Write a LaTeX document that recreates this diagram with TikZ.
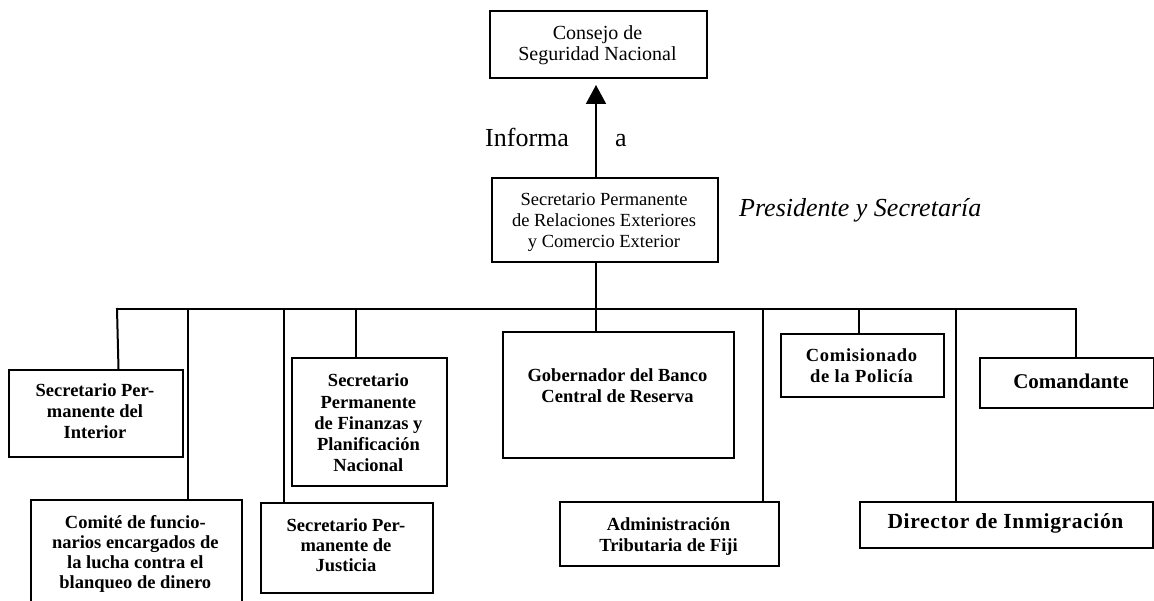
\documentclass[tikz,border=0pt]{standalone}
\usepackage{fontspec}
\setmainfont{Liberation Serif}
\newfontfamily\spacedA[LetterSpace=4]{Liberation Serif}
\newfontfamily\spacedB[LetterSpace=3]{Liberation Serif}
\usetikzlibrary{arrows.meta}
\newcommand\tstrut{\rule{0pt}{0.8em}}
\begin{document}
\begin{tikzpicture}[x=1pt,y=-1pt,
  box/.style={draw, line width=2pt, inner sep=0pt, anchor=north west},
  txt/.style={inner sep=0pt, align=center, anchor=north},
  reg/.style={font=\fontsize{18.5}{21}\selectfont},
  bld/.style={font=\fontsize{18.5}{#1}\selectfont\bfseries},
  conn/.style={line width=2pt, line cap=rect},
  big/.style={inner sep=0pt, anchor=base west, font=\fontsize{26}{30}\selectfont}]
\useasboundingbox (0,0) rectangle (1154,601);
% boxes
\node[box, minimum width=217pt, minimum height=67pt]  (cons) at (489,10)  {};
\node[box, minimum width=226pt, minimum height=84pt]  (mid)  at (491,177) {};
\node[box, minimum width=174pt, minimum height=87pt]  (int)  at (8,369)   {};
\node[box, minimum width=211pt, minimum height=140pt] (com)  at (30,499)  {};
\node[box, minimum width=172pt, minimum height=90pt]  (jus)  at (260,502) {};
\node[box, minimum width=155pt, minimum height=128pt] (fin)  at (291,357) {};
\node[box, minimum width=231pt, minimum height=126pt] (gob)  at (502,331) {};
\node[box, minimum width=219pt, minimum height=64pt]  (adm)  at (559,501) {};
\node[box, minimum width=163pt, minimum height=63pt]  (comi) at (780,333) {};
\node[box, minimum width=174pt, minimum height=50pt]  (coma) at (979,357) {};
\node[box, minimum width=293pt, minimum height=46pt]  (dir)  at (859,501) {};
% texts
\node[txt, font=\fontsize{20}{21}\selectfont] (consT) at (597.5,23) {\tstrut Consejo de\\Seguridad Nacional};
\node[txt, reg] (midT) at (604,190.2) {\tstrut Secretario Permanente\\de Relaciones Exteriores\\y Comercio Exterior};
\node[txt, bld=20.8] (intT) at (95,381.9) {\tstrut Secretario Per-\\manente del\\Interior};
\node[txt, bld=19.8] (comT) at (135.3,513.7) {\tstrut Comité de funcio-\\narios encargados de\\la lucha contra el\\blanqueo de dinero};
\node[txt, bld=20] (jusT) at (346,516.9) {\tstrut Secretario Per-\\manente de\\Justicia};
\node[txt, bld=21.2] (finT) at (368.4,371.9) {\tstrut Secretario\\Permanente\\de Finanzas y\\Planificación\\Nacional};
\node[txt, bld=21] (gobT) at (617.5,366.2) {\tstrut Gobernador del Banco\\Central de Reserva};
\node[txt, bld=21.7] (admT) at (668.5,515.2) {\tstrut Administración\\Tributaria de Fiji};
\node[txt, font=\fontsize{18.5}{21}\selectfont\spacedA\bfseries] (comiT) at (861.5,346.9) {\tstrut Comisionado\\de la Policía};
\node[inner sep=0pt, anchor=base, font=\fontsize{21}{24}\selectfont\bfseries] (comaT) at (1071,388.3) {Comandante};
\node[inner sep=0pt, anchor=base, font=\fontsize{21.5}{24}\selectfont\spacedB\bfseries] (dirT) at (1005.5,528) {Director de Inmigración};
\node[big] (inf) at (485,147) {Informa};
\node[big] (infa) at (615,147) {a};
\node[big, font=\fontsize{26}{30}\selectfont\itshape] (pres) at (739,216.7) {Presidente y Secretaría};
% connectors
\coordinate (ax) at (596,0);
\coordinate (busL) at (117,309);
\coordinate (busR) at (1076,309);
\coordinate (c2) at (188,309);
\coordinate (c3) at (284,309);
\coordinate (c4) at (356,309);
\coordinate (c6) at (763,309);
\coordinate (c7) at (859,309);
\coordinate (c8) at (956,309);
\draw[line width=2pt, -{Triangle[length=19pt,width=20pt]}] (mid.north -| ax) -- ([yshift=-6pt]cons.south -| ax);
\draw[conn] (busL) -- (busR);
\draw[conn] (mid.south -| ax) -- (gob.north -| ax);
\draw[conn] (busL) -- ([xshift=1.5pt]int.north -| busL);
\draw[conn] (c2) -- (com.north -| c2);
\draw[conn] (c3) -- (jus.north -| c3);
\draw[conn] (c4) -- (fin.north -| c4);
\draw[conn] (c6) -- (adm.north -| c6);
\draw[conn] (c7) -- (comi.north -| c7);
\draw[conn] (c8) -- (dir.north -| c8);
\draw[conn] (busR) -- (coma.north -| busR);
\end{tikzpicture}
\end{document}
